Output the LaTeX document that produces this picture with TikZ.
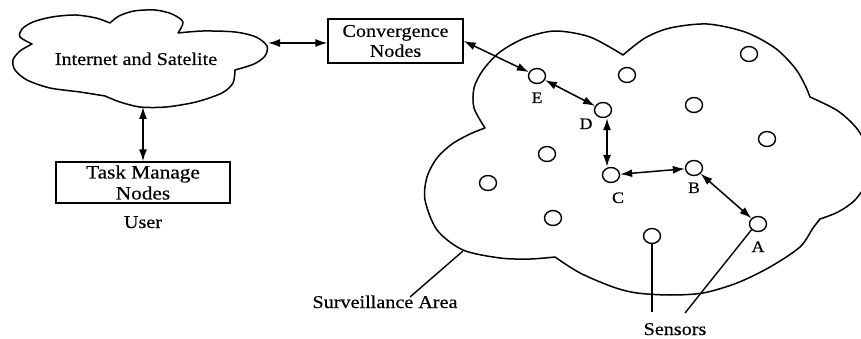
\documentclass[tikz,border=0pt]{standalone}
\usepackage{fontspec}
\setmainfont{Liberation Serif}[FakeStretch=1.12, FakeBold=0.4]
\usetikzlibrary{arrows.meta,shapes.geometric}

\tikzset{
  outline/.style={line width=1.5pt, line join=round},
  boxnode/.style={draw, line width=1.3pt, inner sep=0pt, align=center,
                  font=\fontsize{18}{20}\selectfont},
  sensor/.style={draw, ellipse, line width=1.4pt, minimum width=17pt,
                 minimum height=15pt, inner sep=0pt},
  letter/.style={anchor=base, inner sep=0pt, font=\fontsize{16}{18}\selectfont},
  caption/.style={anchor=base, inner sep=0pt, font=\fontsize{18}{20}\selectfont},
  link/.style={line width=1.5pt, {Latex[length=12pt,width=8pt]}-{Latex[length=12pt,width=8pt]}},
  pointer/.style={line width=1.4pt}
}

\begin{document}
\begin{tikzpicture}[x=1pt, y=-1pt]
\useasboundingbox (0,0) rectangle (861,339);
\clip (0,0) rectangle (861,339);

% Internet and satellite cloud
\draw[outline]
  plot[smooth] coordinates {(32,44) (20,37) (22,29) (33,22) (52,17) (75,15) (96,18) (110,23)}
  -- plot[smooth] coordinates {(110,23) (119,16) (134,11) (155,10) (172,14) (183,22) (178,33)}
  -- plot[smooth] coordinates {(178,33) (203,31) (235,32) (256,37) (267,46) (265,56) (254,64) (235,70)}
  -- plot[smooth] coordinates {(235,70) (233,83) (222,93) (196,102) (166,107) (140,107) (120,102) (105,96)}
  -- plot[smooth] coordinates {(105,96) (80,92) (50,88) (27,80) (15,70) (13,60) (20,51) (32,44)}
  -- cycle;
\node[caption] (inet) at (136,65) {Internet and Satelite};
\coordinate (inetR) at (268,43);
\coordinate (inetB) at (143,107);

% Surveillance area cloud
\draw[outline]
  plot[smooth] coordinates {(485,128) (474,108) (474,88) (483,70) (500,52) (525,38) (555,31) (590,37) (623,55)}
  -- plot[smooth] coordinates {(623,55) (645,38) (670,28) (707,24) (745,32) (775,48) (795,68) (805,85) (810,97)}
  -- plot[smooth] coordinates {(810,97) (838,111) (858,130) (870,155) (868,180) (855,200) (838,212) (820,219)}
  -- plot[smooth] coordinates {(820,219) (813,228) (800,247) (770,267) (737,283) (703,293) (670,295) (637,293) (613,287) (580,273) (555,257)}
  -- plot[smooth] coordinates {(555,257) (530,259) (500,258) (463,250) (437,230) (425,200) (427,177) (437,158) (452,144) (470,134) (485,128)}
  -- cycle;
\coordinate (areaPt) at (463,251);

% Boxes
\node[boxnode, minimum width=135pt, minimum height=44pt] (conv) at (395.5,41)
  {Convergence\\Nodes};
\node[boxnode, minimum width=174pt, minimum height=41pt, font=\fontsize{19}{21}\selectfont]
  (task) at (143,182.5) {Task Manage\\Nodes};
\node[caption] (user) at (143,228) {User};

% Sensors
\node[sensor] (E) at (537,76) {};
\node[sensor] (D) at (603,110) {};
\node[sensor] (C) at (611,175) {};
\node[sensor] (B) at (694,168) {};
\node[sensor] (A) at (758,224) {};
\node[sensor] (s1) at (547,154) {};
\node[sensor] (s2) at (627,75) {};
\node[sensor] (s3) at (749,54) {};
\node[sensor] (s4) at (694,105) {};
\node[sensor] (s5) at (767,139) {};
\node[sensor] (s6) at (488,183) {};
\node[sensor] (s7) at (553,218) {};
\node[sensor] (s8) at (652,236) {};

% Sensor letters
\node[letter] at (537,103) {E};
\node[letter] at (586,129) {D};
\node[letter] at (618,203) {C};
\node[letter] at (694,193) {B};
\node[letter] at (758,252) {A};

% Links
\draw[link] (inetR) -- (conv.west |- inetR);
\draw[link] (inetB) -- (task.north);
\draw[link] (conv.east) -- (E);
\draw[link] (E) -- (D);
\draw[link] ([xshift=4pt]D.south) -- ([xshift=-4pt]C.north);
\draw[link] (C) -- (B);
\draw[link] (B) -- (A);

% Captions with pointers
\node[caption] (area) at (385,308) {Surveillance Area};
\coordinate (areaEnd) at (410,297);
\draw[pointer] (areaPt) -- (areaEnd);

\node[caption] (sens) at (675,335) {Sensors};
\coordinate (sensEndA) at (652,312);
\coordinate (sensEndB) at (685,313);
\draw[pointer] (s8.south) -- (sensEndA);
\draw[pointer] (A.south west) -- (sensEndB);
\end{tikzpicture}
\end{document}
